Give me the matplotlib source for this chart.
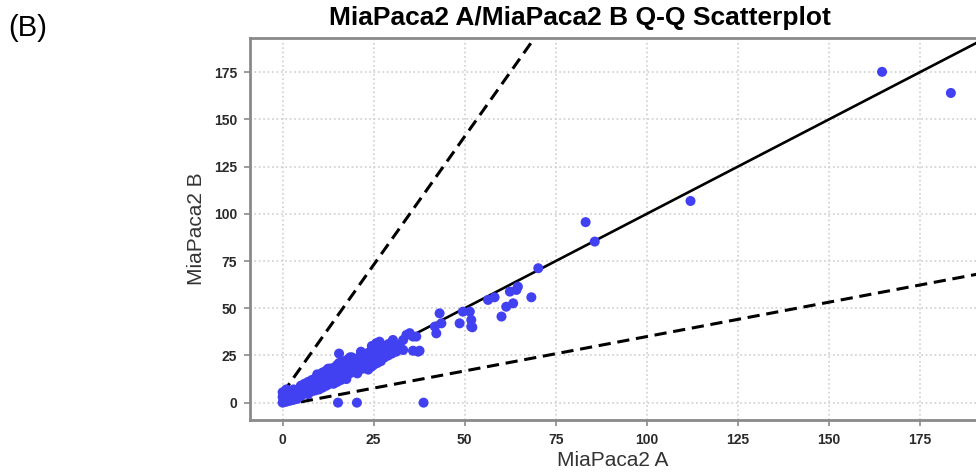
import matplotlib.pyplot as plt
import numpy as np

# dense cloud near the diagonal plus outliers
cloud_x = [0, 0.5, 1, 0.3, 1.5, 2, 0.8, 2.5, 3, 1.2, 0, 0, 3.5, 4, 2, 4.5, 5, 3, 1,
           5, 5, 5, 6, 6, 6, 7, 7, 7, 7, 8, 8, 8, 9, 9, 9, 9,
           10, 10, 10, 10, 11, 11, 11, 11, 12, 12, 12, 12, 13, 13, 13, 13,
           14, 14, 14, 14, 15, 15, 15, 15, 16, 16, 16, 16, 17, 17, 17, 17,
           18, 18, 18, 18, 19, 19, 19, 19, 20, 20, 20, 21, 21, 21, 22, 22, 22,
           23, 23, 23, 24, 24, 24, 25, 25, 25, 26, 26, 26, 27, 27, 27,
           28, 28, 28, 29, 29, 29, 30, 30, 30,
           9.5, 12.5, 15.5, 18.5, 21.5, 24.5, 17.5, 20.5, 23.5]
cloud_y = [0, 1, 0.5, 2.5, 2, 1, 4, 3, 1.5, 5.5, 3, 5.5, 4, 2, 6, 5.5, 3.5, 7, 7,
           4, 7, 9, 5, 8, 10, 4.5, 6.5, 9, 11, 6, 9, 12, 6.5, 8.5, 11, 13,
           7, 10, 12.5, 14, 8, 11, 13, 16, 9, 12, 14, 17, 10, 12.5, 15, 18,
           10, 13, 16, 18.5, 11, 14, 17, 20, 12, 15, 18, 21, 13, 16, 19, 22,
           15, 17, 20, 23, 16, 19, 22, 24, 17, 20, 23, 17.5, 21, 24, 18, 21.5, 25,
           19, 22, 26, 19, 23, 27, 20, 24, 29, 21, 25, 28, 22, 26, 30,
           24, 27, 29, 25, 28, 31, 26, 29, 32,
           15, 18, 21, 24, 27, 30, 12.5, 15.5, 17.5]

outer_x = [15.5, 26.6, 34, 36.7, 37.6, 35.8, 33.1, 24.4, 24.8, 25.7, 28, 30.3, 31.2,
           32.1, 33.1, 34.9, 35.8, 37.2, 41.8, 42.2, 43.6, 43.1, 48.6, 49.5, 51.4,
           51.8, 52.1, 51.8, 56.4, 58.2, 60.1, 68.3, 61.4, 62.4, 63.3, 64.2, 64.6,
           70.2, 85.7, 83.2, 112, 164.6, 183.5, 15.2, 20.4, 38.7]
outer_y = [26, 32.3, 35.9, 35, 27.5, 27.5, 27.9, 19.1, 24.4, 31.5, 29.7, 33.2, 27,
           30.6, 33.2, 36.8, 35, 27, 40.3, 36.7, 42, 47.3, 42, 48.2, 48.2,
           40.3, 39.9, 43.8, 54.4, 55.8, 45.6, 55.8, 50.8, 58.8, 52.6, 59.7, 61.4,
           71.2, 85.3, 95.6, 106.8, 175.2, 164, 0, 0, 0]

xs = cloud_x + outer_x
ys = cloud_y + outer_y

# reference lines: y = x and two fold-change bounds
upper_slope, upper_icpt = 2.72, 5.0
lower_slope, lower_icpt = 0.364, -1.4

fig = plt.figure(figsize=(9.76, 4.73), dpi=100)
ax = fig.add_axes([0.256, 0.112, 0.744, 0.808])

grey = '#8a8a8a'
ax.grid(True, color='#cfcfcf', linestyle=':', linewidth=1.2)
ax.set_axisbelow(True)

xl = np.array([0, 200])
ax.plot(xl, xl, color='black', lw=1.9, zorder=2)
xu = np.array([0, 80])
ax.plot(xu, upper_slope * xu + upper_icpt, color='black', lw=2.2,
        dashes=(4, 2.2), zorder=2)
xd = np.array([5, 200])
ax.plot(xd, lower_slope * xd + lower_icpt, color='black', lw=2.2,
        dashes=(4, 2.2), zorder=2)

ax.scatter(xs, ys, s=52, color='#4141f2', edgecolors='none', zorder=3)

ax.set_xlim(-9, 190.4)
ax.set_ylim(-9.2, 193.2)
ax.set_xticks(range(0, 176, 25))
ax.set_yticks(range(0, 176, 25))

for side in ['left', 'bottom', 'top']:
    ax.spines[side].set_color(grey)
    ax.spines[side].set_linewidth(2)
ax.spines['right'].set_visible(False)
ax.tick_params(colors=grey, length=4, width=1.2, labelcolor='#2a2a2a', pad=5)
for lab in ax.get_xticklabels() + ax.get_yticklabels():
    lab.set_fontfamily('Liberation Sans')
    lab.set_fontweight('bold')
    lab.set_fontsize(10)

ax.set_xlabel('MiaPaca2 A', fontsize=15, family='Liberation Sans',
              color='#333333', labelpad=3)
ax.set_ylabel('MiaPaca2 B', fontsize=15, family='Liberation Sans',
              color='#333333', labelpad=6)

fig.text(0.594, 0.947, 'MiaPaca2 A/MiaPaca2 B Q-Q Scatterplot', ha='center',
         va='baseline', fontsize=19, fontweight='bold', family='Liberation Sans')
fig.text(0.008, 0.94, '(B)', fontsize=21, family='Liberation Sans',
         va='center', ha='left')

fig.savefig('out.png', dpi=100)
